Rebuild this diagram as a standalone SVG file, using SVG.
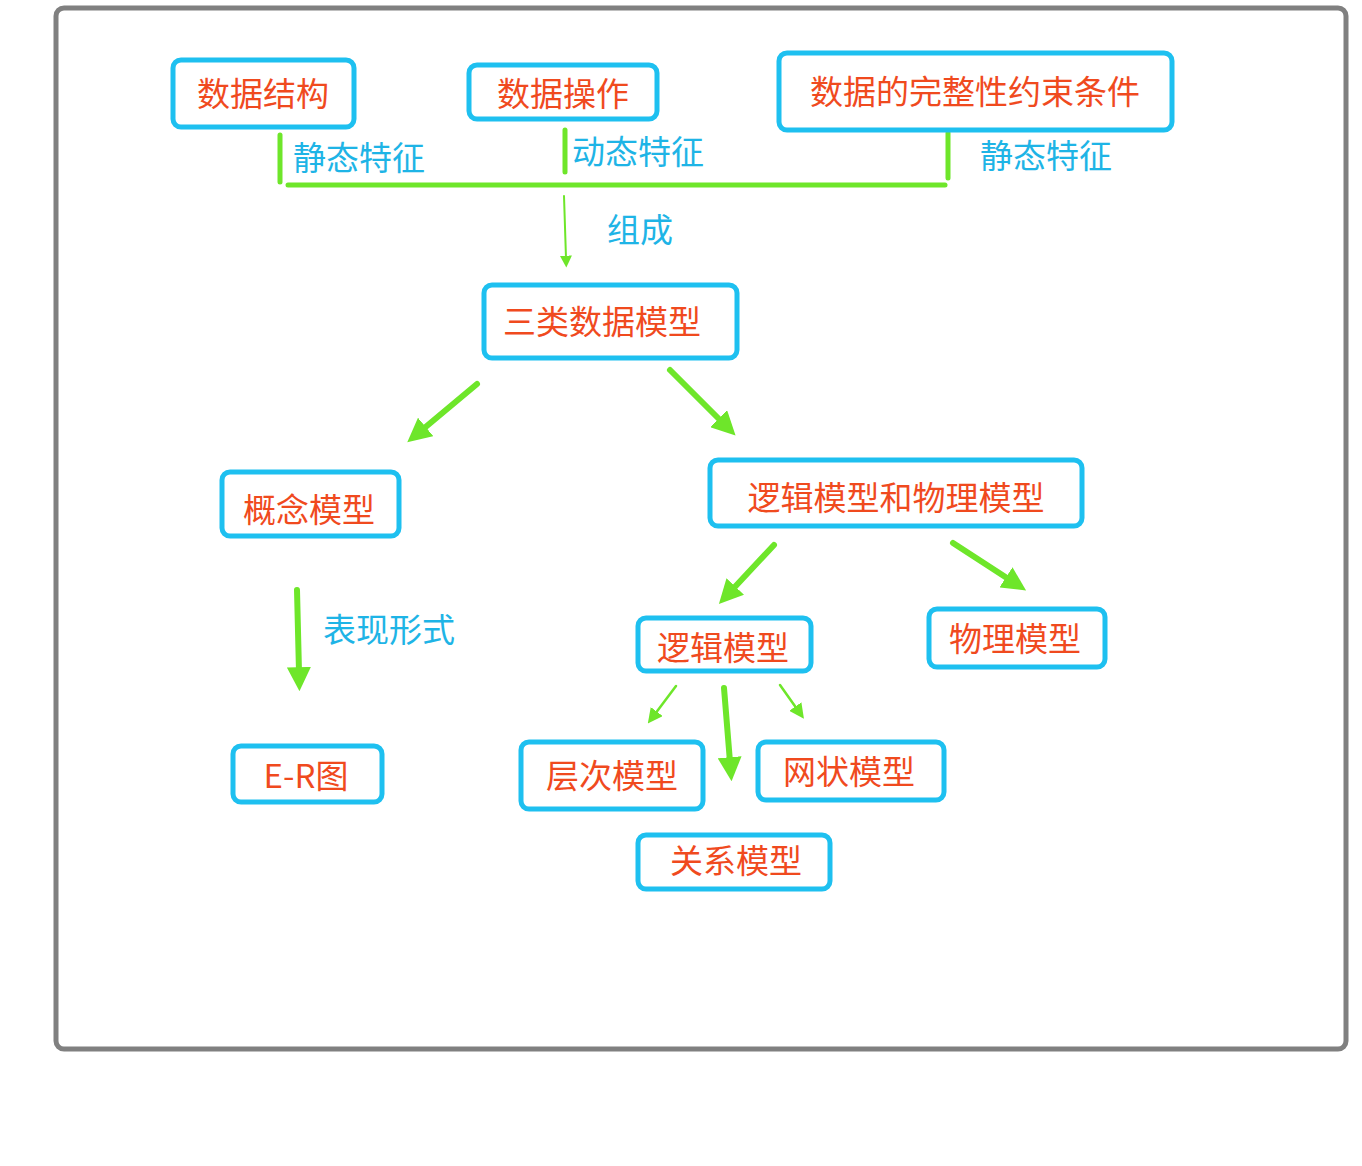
<svg xmlns="http://www.w3.org/2000/svg" width="1362" height="1166" viewBox="0 0 1362 1166">
<defs>
<style>
.n{fill:#fff;stroke:#1ec0f0;stroke-width:5}
.t{font-family:"Noto Sans CJK SC","Liberation Sans",sans-serif;font-size:33px;fill:#f04a1e}
.l{font-family:"Noto Sans CJK SC","Liberation Sans",sans-serif;font-size:33px;fill:#1eb4e6}
.g{stroke:#6ee62a;fill:none;stroke-linecap:round}
</style>
<marker id="ah" viewBox="0 0 10 10" refX="2" refY="5" markerWidth="4" markerHeight="4" orient="auto"><path d="M0,0L10,5L0,10z" fill="#6ee62a"/></marker>
<marker id="ahs" viewBox="0 0 10 10" refX="2" refY="5" markerWidth="6" markerHeight="6" orient="auto"><path d="M0,0L10,5L0,10z" fill="#6ee62a"/></marker>
</defs>
<rect width="1362" height="1166" fill="#fff"/>
<rect x="56" y="8" width="1290" height="1041" rx="8" fill="none" stroke="#808080" stroke-width="5"/>
<g id="connectors">
<line class="g" x1="280" y1="135" x2="280" y2="182" stroke-width="5"/>
<line class="g" x1="565" y1="130" x2="565" y2="172" stroke-width="5"/>
<line class="g" x1="948" y1="133" x2="948" y2="178" stroke-width="5"/>
<line class="g" x1="288" y1="185" x2="945" y2="185" stroke-width="5"/>
<line class="g" x1="564" y1="196" x2="566" y2="258" stroke-width="2" marker-end="url(#ahs)"/>
<line class="g" x1="477" y1="384" x2="422" y2="430" stroke-width="6" marker-end="url(#ah)"/>
<line class="g" x1="670" y1="370" x2="722" y2="422" stroke-width="6" marker-end="url(#ah)"/>
<line class="g" x1="297" y1="590" x2="299" y2="672" stroke-width="6" marker-end="url(#ah)"/>
<line class="g" x1="774" y1="545" x2="732" y2="590" stroke-width="6" marker-end="url(#ah)"/>
<line class="g" x1="953" y1="543" x2="1010" y2="580" stroke-width="6" marker-end="url(#ah)"/>
<line class="g" x1="676" y1="686" x2="655" y2="714" stroke-width="2.5" marker-end="url(#ahs)"/>
<line class="g" x1="780" y1="685" x2="797" y2="709" stroke-width="2.5" marker-end="url(#ahs)"/>
<line class="g" x1="724" y1="688" x2="730" y2="762" stroke-width="6" marker-end="url(#ah)"/>
<text class="l" x="293" y="170">静态特征</text>
<text class="l" x="572" y="164">动态特征</text>
<text class="l" x="980" y="168">静态特征</text>
<text class="l" x="607" y="242">组成</text>
<text class="l" x="323" y="642">表现形式</text>
</g>
<g id="n1"><rect class="n" x="173" y="60" width="181" height="67" rx="8"/><text class="t" x="263" y="106" text-anchor="middle">数据结构</text></g>
<g id="n2"><rect class="n" x="469" y="65" width="188" height="54" rx="8"/><text class="t" x="563" y="106" text-anchor="middle">数据操作</text></g>
<g id="n3"><rect class="n" x="779" y="53" width="393" height="77" rx="8"/><text class="t" x="975" y="104" text-anchor="middle">数据的完整性约束条件</text></g>
<g id="n4"><rect class="n" x="484" y="285" width="253" height="73" rx="8"/><text class="t" x="602" y="334" text-anchor="middle">三类数据模型</text></g>
<g id="n5"><rect class="n" x="222" y="472" width="177" height="64" rx="8"/><text class="t" x="309" y="522" text-anchor="middle">概念模型</text></g>
<g id="n6"><rect class="n" x="710" y="460" width="372" height="66" rx="8"/><text class="t" x="896" y="510" text-anchor="middle">逻辑模型和物理模型</text></g>
<g id="n7"><rect class="n" x="638" y="618" width="173" height="53" rx="8"/><text class="t" x="723" y="660" text-anchor="middle">逻辑模型</text></g>
<g id="n8"><rect class="n" x="929" y="609" width="176" height="58" rx="8"/><text class="t" x="1015" y="651" text-anchor="middle">物理模型</text></g>
<g id="n9"><rect class="n" x="233" y="746" width="149" height="56" rx="8"/><text class="t" x="306" y="788" text-anchor="middle">E-R图</text></g>
<g id="n10"><rect class="n" x="521" y="742" width="182" height="67" rx="8"/><text class="t" x="612" y="788" text-anchor="middle">层次模型</text></g>
<g id="n11"><rect class="n" x="758" y="742" width="186" height="58" rx="8"/><text class="t" x="849" y="784" text-anchor="middle">网状模型</text></g>
<g id="n12"><rect class="n" x="638" y="835" width="192" height="54" rx="8"/><text class="t" x="736" y="873" text-anchor="middle">关系模型</text></g>
</svg>
